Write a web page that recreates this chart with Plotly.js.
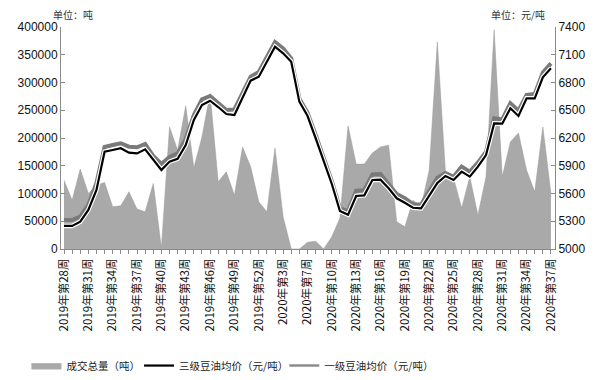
<!DOCTYPE html>
<html>
<head>
<meta charset="utf-8">
<script src="https://cdn.plot.ly/plotly-3.0.1.min.js"></script>
<style>html,body{margin:0;padding:0;background:#fff;}#chart{width:601px;height:380px;}</style>
</head>
<body>
<div id="chart"></div>
<script>
var weeks = [
"2019年第28周","2019年第29周","2019年第30周","2019年第31周","2019年第32周","2019年第33周","2019年第34周","2019年第35周","2019年第36周","2019年第37周",
"2019年第38周","2019年第39周","2019年第40周","2019年第41周","2019年第42周","2019年第43周","2019年第44周","2019年第45周","2019年第46周","2019年第47周",
"2019年第48周","2019年第49周","2019年第50周","2019年第51周","2019年第52周","2020年第1周","2020年第2周","2020年第3周","2020年第5周","2020年第6周",
"2020年第7周","2020年第8周","2020年第9周","2020年第10周","2020年第11周","2020年第12周","2020年第13周","2020年第14周","2020年第15周","2020年第16周",
"2020年第17周","2020年第18周","2020年第19周","2020年第20周","2020年第21周","2020年第22周","2020年第23周","2020年第24周","2020年第25周","2020年第26周",
"2020年第27周","2020年第28周","2020年第29周","2020年第30周","2020年第31周","2020年第32周","2020年第33周","2020年第34周","2020年第35周","2020年第36周",
"2020年第37周"];

var volume = [124000, 88000, 144000, 100000, 115000, 120000, 76000, 78000, 103000, 72000,
  67000, 118000, 2000, 220000, 178000, 258000, 146000, 202000, 280000, 121000,
  139000, 97000, 184000, 148000, 85000, 67000, 182000, 58000, 0, 0,
  12000, 14000, 0, 22000, 56000, 222000, 153000, 153000, 173000, 184000,
  187000, 49000, 40000, 88000, 76000, 142000, 373000, 139000, 128000, 74000,
  130000, 61000, 130000, 395000, 130000, 193000, 209000, 142000, 103000, 220000,
  100000];

var grade3Price = [5249, 5249, 5295, 5422, 5638, 6052, 6070, 6089, 6041, 6034,
  6078, 5962, 5854, 5944, 5975, 6124, 6395, 6557, 6603, 6535,
  6459, 6449, 6629, 6820, 6863, 7025, 7187, 7116, 7025, 6593,
  6440, 6200, 5962, 5703, 5410, 5370, 5573, 5580, 5746, 5750,
  5656, 5548, 5500, 5446, 5440, 5584, 5713, 5789, 5746, 5836,
  5782, 5890, 6016, 6358, 6355, 6521, 6438, 6629, 6629, 6856,
  6953];

var grade1Price = [5313, 5313, 5350, 5476, 5713, 6103, 6124, 6143, 6106, 6100,
  6135, 6005, 5919, 5995, 6034, 6190, 6449, 6618, 6654, 6580,
  6503, 6508, 6681, 6863, 6914, 7077, 7238, 7168, 7060, 6627,
  6475, 6235, 5995, 5735, 5440, 5410, 5630, 5635, 5807, 5810,
  5700, 5595, 5548, 5485, 5480, 5635, 5770, 5822, 5780, 5890,
  5836, 5933, 6052, 6413, 6400, 6575, 6495, 6665, 6675, 6907,
  7007];

var seriesNames = ["成交总量（吨）", "三级豆油均价（元/吨）", "一级豆油均价（元/吨）"];

var idx = weeks.map(function(_, i){ return i; });
var tickIdx = idx.filter(function(i){ return i % 3 === 0; });
var tickTxt = tickIdx.map(function(i){ return weeks[i]; });

var cjk = '"Noto Sans CJK SC", "Liberation Sans", Arial, sans-serif';
var num = '"Liberation Sans", Arial, sans-serif';

var traces = [
  {x: idx, y: volume, type: 'scatter', mode: 'lines', fill: 'tozeroy',
   fillcolor: '#a9a9a9', line: {color: '#9a9a9a', width: 0.5},
   name: seriesNames[0], yaxis: 'y', legend: 'legend'},
  {x: idx, y: grade1Price, type: 'scatter', mode: 'lines',
   line: {color: '#7a7a7a', width: 4}, name: seriesNames[2], yaxis: 'y2', showlegend: false},
  {x: idx, y: grade3Price, type: 'scatter', mode: 'lines',
   line: {color: '#ffffff', width: 4.5}, yaxis: 'y2', showlegend: false},
  {x: idx, y: grade3Price, type: 'scatter', mode: 'lines',
   line: {color: '#000000', width: 2.2}, name: seriesNames[1], yaxis: 'y2', legend: 'legend2'},
  {x: [null], y: [null], type: 'scatter', mode: 'lines',
   line: {color: '#8c8c8c', width: 2.5}, name: seriesNames[2], yaxis: 'y2', legend: 'legend3'}
];

function leg(xp) {
  return {orientation: 'h', x: xp, xanchor: 'left', y: -0.525, yanchor: 'middle',
          font: {family: cjk, size: 10.5, color: '#222'}, itemwidth: 30,
          bgcolor: 'rgba(0,0,0,0)'};
}

var layout = {
  width: 601, height: 380,
  margin: {l: 61, r: 46, t: 27, b: 131, autoexpand: false},
  paper_bgcolor: '#ffffff', plot_bgcolor: '#ffffff',
  showlegend: true,
  legend: leg(-0.07),
  legend2: leg(0.158),
  legend3: leg(0.452),
  xaxis: {range: [-0.37, 60.5], showgrid: false, zeroline: false, automargin: false,
          showline: true, linecolor: '#8a8a8a', linewidth: 1,
          tickmode: 'array', tickvals: tickIdx, ticktext: tickTxt, tickangle: -90,
          ticks: 'outside', ticklen: 4, tickcolor: '#8a8a8a',
          minor: {tickmode: 'linear', tick0: 0, dtick: 1, ticks: 'outside', ticklen: 4, tickcolor: '#8a8a8a', showgrid: false},
          tickfont: {family: cjk, size: 11.5, color: '#111'}},
  yaxis: {range: [0, 400000], dtick: 50000, tick0: 0, showgrid: false, zeroline: false, automargin: false,
          showline: true, linecolor: '#8a8a8a', linewidth: 1,
          ticks: 'inside', ticklen: 4, tickcolor: '#8a8a8a',
          tickfont: {family: num, size: 12, color: '#111'}, tickformat: 'd'},
  yaxis2: {range: [5000, 7400], dtick: 300, tick0: 5000, overlaying: 'y', side: 'right', automargin: false,
           showgrid: false, zeroline: false,
           showline: true, linecolor: '#8a8a8a', linewidth: 1,
           ticks: 'inside', ticklen: 4, tickcolor: '#8a8a8a',
           tickfont: {family: num, size: 12, color: '#111'}, tickformat: 'd'},
  annotations: [
    {text: '单位：吨', xref: 'paper', yref: 'paper', x: -0.02, y: 1.0, yshift: 13,
     xanchor: 'left', yanchor: 'middle', showarrow: false,
     font: {family: cjk, size: 10, color: '#333'}},
    {text: '单位：元/吨', xref: 'paper', yref: 'paper', x: 1.0, y: 1.0, yshift: 13, xshift: -8,
     xanchor: 'right', yanchor: 'middle', showarrow: false,
     font: {family: cjk, size: 10, color: '#333'}}
  ]
};

Plotly.newPlot('chart', traces, layout, {displayModeBar: false, staticPlot: true});
</script>
</body>
</html>
